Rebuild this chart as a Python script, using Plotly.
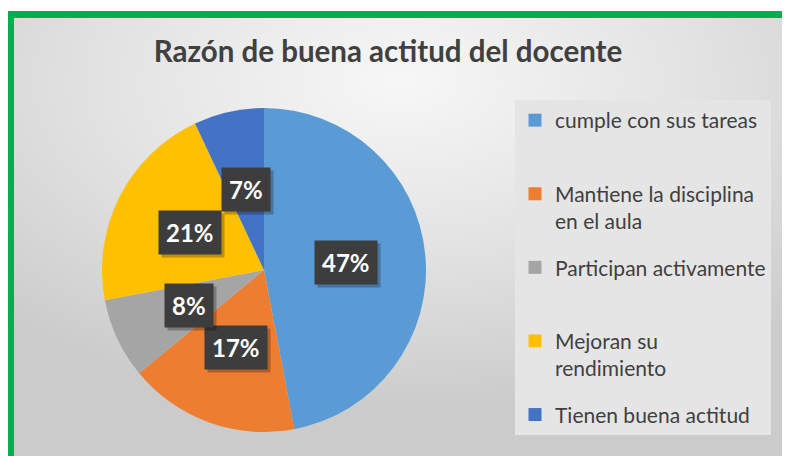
import math
import plotly.graph_objects as go

# Datos del gráfico
categorias = [
    'cumple con sus tareas',
    'Mantiene la disciplina<br>en el aula',
    'Participan activamente',
    'Mejoran su<br>rendimiento',
    'Tienen buena actitud',
]
porcentajes = [47, 17, 8, 21, 7]
colores = ['#5B9BD5', '#ED7D31', '#A5A5A5', '#FFC000', '#4472C4']
titulo = 'Razón de buena actitud del docente'

# La página deja 8 px de margen en el body: la figura ocupa el resto de la ventana
W, H = 782, 448
FUENTE = 'Lato, sans-serif'

# Geometría del pastel (en píxeles de la figura)
cx, cy, R = 256, 262, 162
dom_x = [(cx - R) / W, (cx + R) / W]
dom_y = [(H - cy - R) / H, (H - cy + R) / H]

# Marco verde (centro de la línea)
marco_x, marco_y = 2.5, 6.5

# Fondo con degradado radial (imagen SVG en línea)
fondo_svg = (
    "data:image/svg+xml;utf8,"
    "<svg xmlns='http://www.w3.org/2000/svg' width='790' height='456' preserveAspectRatio='none'>"
    "<defs><radialGradient id='g' cx='0.5' cy='0.15' r='0.75'>"
    "<stop offset='0' stop-color='%23f7f7f7'/>"
    "<stop offset='0.5' stop-color='%23e3e3e3'/>"
    "<stop offset='1' stop-color='%23cbcbcb'/>"
    "</radialGradient></defs>"
    "<rect width='790' height='456' fill='url(%23g)'/></svg>"
)

fig = go.Figure()

fig.add_trace(go.Pie(
    labels=[c.replace('<br>', ' ') for c in categorias],
    values=porcentajes,
    marker=dict(colors=colores, line=dict(width=0)),
    sort=False,
    direction='clockwise',
    rotation=0,
    textinfo='none',
    showlegend=False,
    domain=dict(x=dom_x, y=dom_y),
    hovertemplate='%{label}: %{percent}<extra></extra>',
))

# Entradas de leyenda (dos líneas cada una, salvo la última, para un espaciado uniforme)
for i, (c, col) in enumerate(zip(categorias, colores)):
    nombre = c if ('<br>' in c or i == len(categorias) - 1) else c + '<br> '
    fig.add_trace(go.Scatter(
        x=[None], y=[None], mode='markers', name=nombre,
        legendgroup=c,
        marker=dict(symbol='square', size=13, color=col),
        hoverinfo='skip',
    ))

# Etiquetas de datos en cajas oscuras, colocadas desde los valores
total = sum(porcentajes)
acum = 0
r_lab = 0.51 * R
for v in porcentajes:
    ang = 2 * math.pi * (acum + v / 2) / total
    acum += v
    px_ = cx + r_lab * math.sin(ang)
    py_ = cy - r_lab * math.cos(ang)
    texto = f'{round(100 * v / total)}%'
    for sombra in (True, False):
        fig.add_annotation(
            x=px_ / W, y=1 - py_ / H, xref='paper', yref='paper',
            xanchor='center', yanchor='middle',
            text=f'<b>{texto}</b>', showarrow=False,
            font=dict(family=FUENTE, size=24,
                      color='rgba(0,0,0,0)' if sombra else 'white'),
            bgcolor='rgba(0,0,0,0.25)' if sombra else '#3d3d3d',
            borderpad=7,
            xshift=3 if sombra else 0,
            yshift=-3 if sombra else 0,
        )

fig.update_layout(
    width=W, height=H,
    margin=dict(l=0, r=0, t=0, b=0),
    paper_bgcolor='white',
    plot_bgcolor='rgba(0,0,0,0)',
    xaxis=dict(visible=False),
    yaxis=dict(visible=False),
    title=dict(
        text=f'<b>{titulo}</b>',
        x=380 / W, xanchor='center',
        y=1 - 44 / H, yanchor='middle',
        font=dict(family=FUENTE, size=29.5, color='#404040'),
    ),
    showlegend=True,
    legend=dict(
        x=507 / W, xanchor='left',
        y=1 - 92 / H, yanchor='top',
        bgcolor='#e5e5e5',
        font=dict(family=FUENTE, size=21, color='#404040'),
        valign='top',
        traceorder='grouped',
        tracegroupgap=16,
        itemwidth=30,
    ),
    images=[dict(
        source=fondo_svg, xref='paper', yref='paper',
        x=marco_x / W, y=1 - marco_y / H,
        sizex=1 - marco_x / W, sizey=1 - marco_y / H,
        xanchor='left', yanchor='top',
        sizing='stretch', layer='below',
    )],
    shapes=[dict(
        type='rect', xref='paper', yref='paper',
        x0=marco_x / W, y0=-0.05, x1=1.05, y1=1 - marco_y / H,
        line=dict(color='#00B050', width=7),
        fillcolor='rgba(0,0,0,0)',
    )],
)

fig.write_html('out.html')
